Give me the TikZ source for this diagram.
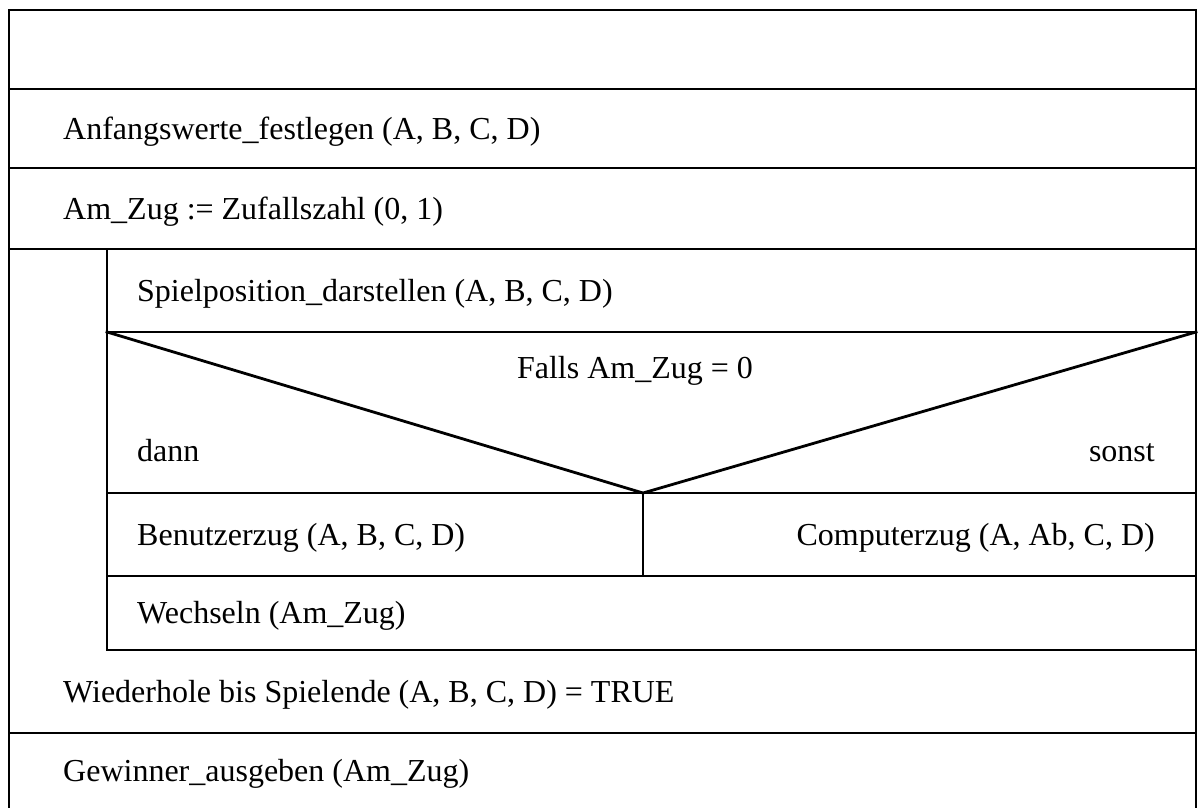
\documentclass[tikz,border=0pt]{standalone}
\usepackage{fontspec}
\setmainfont{Liberation Serif}
\usepackage{tikz}

\begin{document}
\begin{tikzpicture}[
    x=1pt, y=-1pt,
    rule/.style={line width=2.8pt, line cap=rect},
    txt/.style={anchor=base west, inner sep=0pt, font=\fontsize{32}{38}\selectfont},
    txtr/.style={txt, anchor=base east}
]
\useasboundingbox (0,0) rectangle (1199,808);
% Rahmen (unten offen)
\draw[rule] (9,808) -- (9,10) -- (1196,10) -- (1196,808);
% Zeilen ueber die volle Breite
\foreach \y in {89,168,249,733}{
    \draw[rule] (9,\y) -- (1196,\y);
}
% Schleifenkoerper
\draw[rule] (107,249) -- (107,650) -- (1196,650);
\foreach \y in {332,493,576}{
    \draw[rule] (107,\y) -- (1196,\y);
}
% Verzweigung
\coordinate (tip) at (643,493);
\draw[rule] (107,332) -- (tip) -- (1196,332);
\draw[rule] (tip) -- (643,576);
% Texte
\node[txt] (init) at (63,139) {Anfangswerte\_festlegen (A, B, C, D)};
\node[txt] (zug) at (63,219) {Am\_Zug := Zufallszahl (0, 1)};
\node[txt] (pos) at (137,301) {Spielposition\_darstellen (A, B, C, D)};
\node[txt, anchor=base] (falls) at (635,378) {Falls Am\_Zug = 0};
\node[txt] (dann) at (137,461) {dann};
\node[txtr] (sonst) at (1155,461) {sonst};
\node[txt] (user) at (137,545) {Benutzerzug (A, B, C, D)};
\node[txtr] (comp) at (1155,545) {Computerzug (A, Ab, C, D)};
\node[txt] (wechsel) at (137,623) {Wechseln (Am\_Zug)};
\node[txt] (bis) at (63,702) {Wiederhole bis Spielende (A, B, C, D) = TRUE};
\node[txt] (gewinn) at (63,781) {Gewinner\_ausgeben (Am\_Zug)};
\end{tikzpicture}
\end{document}
